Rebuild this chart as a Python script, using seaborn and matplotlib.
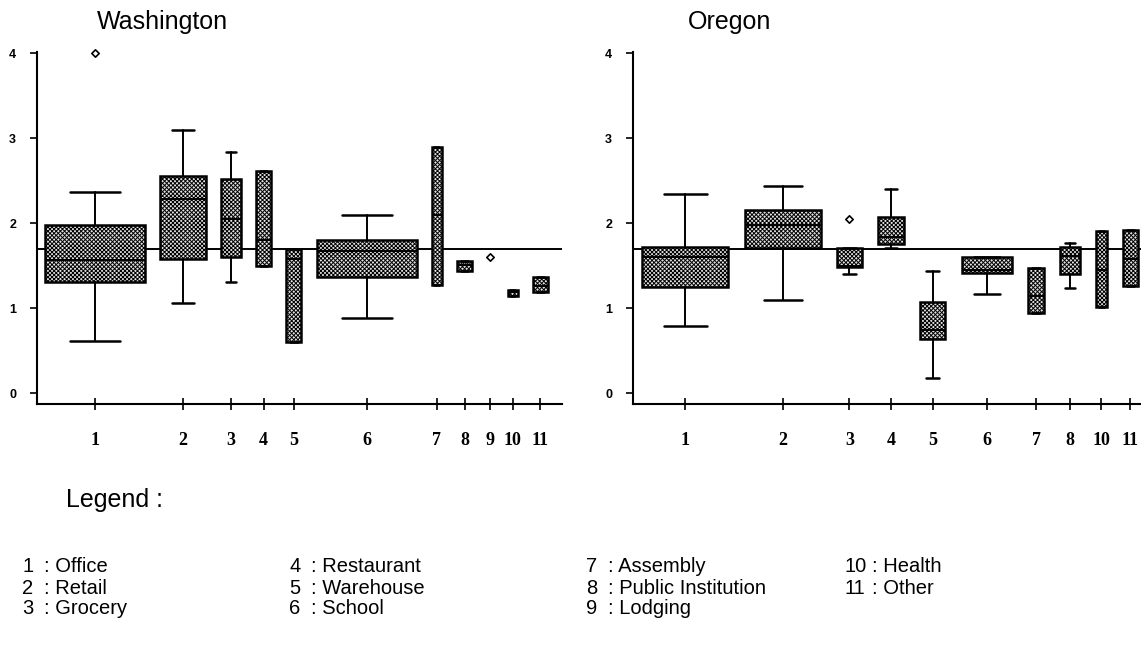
import matplotlib
matplotlib.use("Agg")
import matplotlib.pyplot as plt
import seaborn as sns
import pandas as pd

# ---- data -----------------------------------------------------------------
building_types = ["Office", "Retail", "Grocery", "Restaurant", "Warehouse",
                  "School", "Assembly", "Public Institution", "Lodging",
                  "Health", "Other"]

# Washington: sample counts and five-number summaries per building type
wa_labels = ["1", "2", "3", "4", "5", "6", "7", "8", "9", "10", "11"]
wa_n      = [20, 9, 4, 3, 3, 20, 2, 3, 1, 2, 3]
wa_low    = [0.615, 1.06, 1.31, 1.50, 0.60, 0.89, 1.27, 1.44, 1.60, 1.15, 1.19]
wa_q1     = [1.31, 1.58, 1.60, 1.50, 0.60, 1.365, 1.27, 1.44, 1.60, 1.15, 1.19]
wa_med    = [1.57, 2.29, 2.05, 1.80, 1.58, 1.67, 2.10, 1.51, 1.60, 1.19, 1.26]
wa_q3     = [1.98, 2.56, 2.52, 2.61, 1.70, 1.80, 2.90, 1.56, 1.60, 1.22, 1.365]
wa_high   = [2.37, 3.10, 2.84, 2.61, 1.70, 2.10, 2.90, 1.56, 1.60, 1.22, 1.365]
wa_out    = [[4.0], [], [], [], [], [], [], [], [], [], []]

# Oregon (no lodging buildings)
or_labels = ["1", "2", "3", "4", "5", "6", "7", "8", "10", "11"]
or_n      = [17, 15, 5, 5, 5, 10, 3, 4, 2, 3]
or_low    = [0.795, 1.10, 1.40, 1.706, 0.18, 1.165, 0.94, 1.24, 1.01, 1.26]
or_q1     = [1.255, 1.706, 1.48, 1.757, 0.64, 1.42, 0.94, 1.40, 1.01, 1.26]
or_med    = [1.60, 1.98, 1.50, 1.835, 0.745, 1.45, 1.14, 1.615, 1.45, 1.575]
or_q3     = [1.725, 2.157, 1.706, 2.075, 1.078, 1.60, 1.47, 1.72, 1.91, 1.92]
or_high   = [2.345, 2.44, 1.706, 2.40, 1.44, 1.60, 1.47, 1.765, 1.91, 1.92]
or_out    = [[], [], [2.05], [], [], [], [], [], [], []]

reference_level = 1.70

# ---- style ----------------------------------------------------------------
sns.set_theme(style="ticks")
plt.rcParams["font.family"] = ["Liberation Sans", "DejaVu Sans"]
plt.rcParams["text.color"] = "black"
plt.rcParams["xtick.color"] = "black"
plt.rcParams["ytick.color"] = "black"
plt.rcParams["axes.edgecolor"] = "black"
plt.rcParams["hatch.linewidth"] = 0.7
plt.rcParams["hatch.color"] = "#222222"

W, H = 1141, 645
fig = plt.figure(figsize=(W / 100, H / 100), dpi=100)
fig.patch.set_facecolor("white")

BOX_FACE = "#e2e2e2"


def draw_panel(ax, labels, n, low, q1, med, q3, high, out, gap, pad_l, pad_r):
    # widths proportional to the number of buildings, boxes laid side by side
    centers, start = [], 0.0
    for k in n:
        centers.append(start + k / 2.0)
        start += k + gap
    end = start - gap

    ax.axhline(reference_level, color="black", lw=1.4, zorder=1)

    stats, pos, widths = [], [], []
    pts = []
    for i, lab in enumerate(labels):
        for v in out[i]:
            pts.append((centers[i], v))
        if n[i] == 1:
            pts.append((centers[i], med[i]))
            continue
        stats.append(dict(med=med[i], q1=q1[i], q3=q3[i],
                          whislo=low[i], whishi=high[i], fliers=[]))
        pos.append(centers[i])
        widths.append(float(n[i]))

    ax.bxp(stats, positions=pos, widths=widths,
           capwidths=[w * 0.5 for w in widths],
           patch_artist=True, showfliers=False, manage_ticks=False,
           boxprops=dict(facecolor=BOX_FACE, edgecolor="black",
                         linewidth=1.8, hatch="xxxxxxxx"),
           medianprops=dict(color="black", linewidth=1.4),
           whiskerprops=dict(color="black", linewidth=1.4),
           capprops=dict(color="black", linewidth=1.8),
           zorder=3)

    if pts:
        df = pd.DataFrame(pts, columns=["x", "y"])
        sns.scatterplot(data=df, x="x", y="y", ax=ax, marker="D", s=14,
                        facecolor="white", edgecolor="black", linewidth=1.2,
                        zorder=4, legend=False, clip_on=False)

    ax.set_xlim(-pad_l, end + pad_r)
    ax.set_ylim(-0.126, 4.02)
    ax.set_xlabel("")
    ax.set_ylabel("")
    ax.set_xticks(centers)
    ax.set_xticklabels(labels, family=["Liberation Serif", "DejaVu Serif"],
                       fontweight="bold", fontsize=13)
    ax.set_yticks([0, 1, 2, 3, 4])
    ax.set_yticklabels(["0", "1", "2", "3", "4"], fontweight="bold",
                       fontsize=9)
    ax.tick_params(axis="x", direction="inout", length=9, width=1.2,
                   pad=16, color="black")
    ax.tick_params(axis="y", direction="out", length=5, width=1.2,
                   pad=10, color="black")
    sns.despine(ax=ax)
    for s in ("left", "bottom"):
        ax.spines[s].set_linewidth(1.5)
        ax.spines[s].set_color("black")
    ax.set_facecolor("white")
    ax.grid(False)


bottom = (H - 404) / H
height = (404 - 51.6) / H
ax_wa = fig.add_axes([37 / W, bottom, 525 / W, height])
ax_or = fig.add_axes([633 / W, bottom, 508 / W, height])

draw_panel(ax_wa, wa_labels, wa_n, wa_low, wa_q1, wa_med, wa_q3, wa_high,
           wa_out, gap=3.04, pad_l=1.6, pad_r=2.8)
draw_panel(ax_or, or_labels, or_n, or_low, or_q1, or_med, or_q3, or_high,
           or_out, gap=3.2, pad_l=1.8, pad_r=0.6)

fig.text(162 / W, 1 - 22 / H, "Washington", fontsize=18,
         ha="center", va="center")
fig.text(730 / W, 1 - 22 / H, "Oregon", fontsize=18,
         ha="center", va="center")

# ---- building type key ----------------------------------------------------
fig.text(66 / W, 1 - 500 / H, "Legend :", fontsize=18, ha="left",
         va="center")
col_x = [22, 289, 586, 845]
col_dx = [22, 22, 22, 27]
row_y = [567, 588, 609]
for i, name in enumerate(building_types):
    c, r = divmod(i, 3)
    x, y = col_x[c], row_y[r]
    fig.text(x / W, 1 - y / H, str(i + 1), fontsize=14.5, ha="left",
             va="center")
    fig.text((x + col_dx[c]) / W, 1 - y / H, ": " + name, fontsize=14.5,
             ha="left", va="center")

fig.savefig("out.png", dpi=100, facecolor="white")
